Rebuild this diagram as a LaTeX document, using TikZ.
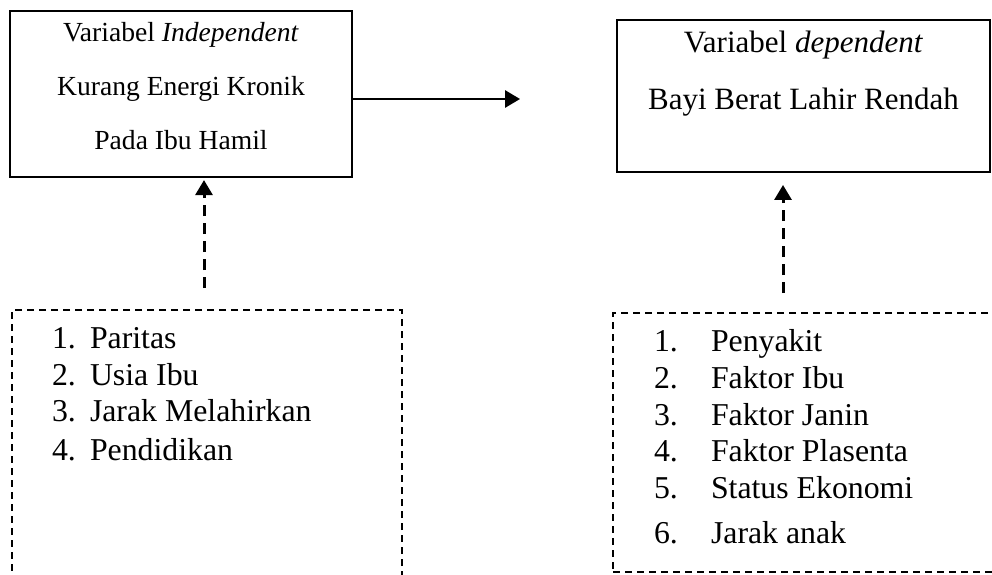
\documentclass[tikz,border=0pt]{standalone}
\usepackage{fontspec}
\setmainfont{Liberation Serif}
\usetikzlibrary{positioning,arrows.meta}

\begin{document}
\begin{tikzpicture}[%
    x=1pt, y=-1pt,              % Work in page pixels, y going down
    >={Triangle[length=15pt,width=17pt]},
    line width=2.7pt,
    ]
% -------------------------------------------------
% Box and line styles
\tikzset{
base/.style={draw, rectangle, inner sep=0pt},
varbox/.style={base},
factbox/.style={base, dash pattern=on 7pt off 5pt},
vartext/.style={align=center, inner sep=0pt},
itemtext/.style={anchor=base west, inner sep=0pt, font=\fontsize{31.8}{37}\selectfont},
% -------------------------------------------------
% Connector line styles
norm/.style={->, draw},
dashnorm/.style={->, draw, line width=3pt, dash pattern=on 11pt off 7pt},
}
% -------------------------------------------------
\useasboundingbox (0,0) rectangle (992,574);
\clip (0,0) rectangle (992,574);

% Start by placing the variable boxes
\node [varbox, minimum width=342pt, minimum height=166pt] (kek) at (181,94) {};
\node [varbox, minimum width=373pt, minimum height=152pt] (bblr) at (803.5,96) {};

\node [vartext, below=11pt of kek.north, font=\fontsize{27.6}{54}\selectfont] (kektext)
    {Variabel \textit{Independent}\\Kurang Energi Kronik\\Pada Ibu Hamil};
\node [vartext, below=11pt of bblr.north, font=\fontsize{31}{57}\selectfont] (bblrtext)
    {Variabel \textit{dependent}\\Bayi Berat Lahir Rendah};

% Factor boxes, running past the page edge
\node [factbox, minimum width=390pt, minimum height=310pt] (faktorkek) at (207,465) {};
\node [factbox, minimum width=388pt, minimum height=259pt] (faktorbblr) at (807,442.5) {};

% Items of the factor lists
\foreach \num/\lbl/\dy in {1/Paritas/40, 2/Usia Ibu/77, 3/Jarak Melahirkan/113, 4/Pendidikan/152} {
    \node [itemtext] (kekitem\num) at ([xshift=40pt, yshift=-\dy pt] faktorkek.north west) {\num.};
    \node [itemtext] (kekitemtext\num) at ([xshift=78pt, yshift=-\dy pt] faktorkek.north west) {\lbl};
}
\foreach \num/\lbl/\dy in {1/Penyakit/40, 2/Faktor Ibu/77, 3/Faktor Janin/114, 4/Faktor Plasenta/150,
                           5/Status Ekonomi/187, 6/Jarak anak/232} {
    \node [itemtext] (bblritem\num) at ([xshift=41pt, yshift=-\dy pt] faktorbblr.north west) {\num.};
    \node [itemtext] (bblritemtext\num) at ([xshift=98pt, yshift=-\dy pt] faktorbblr.north west) {\lbl};
}

% Connectors
\draw [norm, shorten >=95.6pt] ([yshift=-5pt] kek.east) -- ([yshift=-5pt] kek.east -| bblr.west);
\draw [dashnorm, shorten <=20.6pt, shorten >=1.7pt] ([xshift=-3pt] faktorkek.north)
    -- ([xshift=-3pt] faktorkek.north |- kek.south);
\draw [dashnorm, shorten <=18.6pt, shorten >=11.6pt] ([xshift=-24pt] faktorbblr.north)
    -- ([xshift=-24pt] faktorbblr.north |- bblr.south);

\end{tikzpicture}
\end{document}
